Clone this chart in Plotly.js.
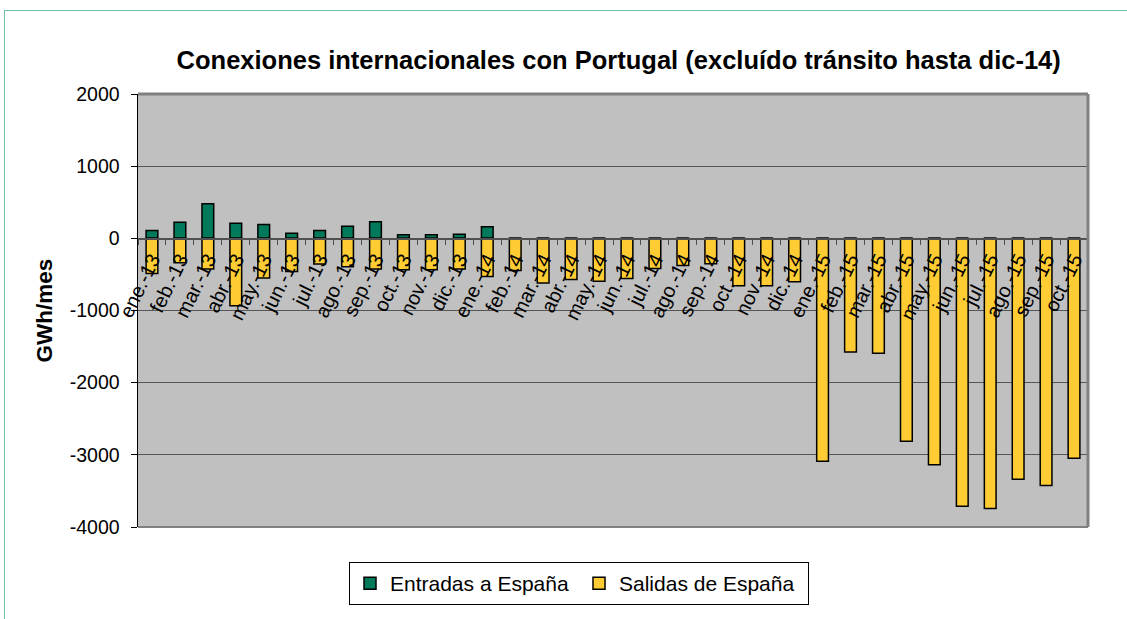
<!DOCTYPE html>
<html>
<head>
<meta charset="utf-8">
<script src="https://cdn.plot.ly/plotly-3.0.1.min.js"></script>
<style>
html,body{margin:0;padding:0;background:#fff;}
#wrap{position:relative;width:1127px;height:619px;overflow:hidden;}
#frame{position:absolute;left:4px;top:10px;width:1200px;height:700px;border-top:1px solid #6cc0a6;border-left:1px solid #6cc0a6;pointer-events:none;}
#chart{position:absolute;left:0;top:0;width:1127px;height:619px;}
</style>
</head>
<body>
<div id="wrap"><div id="chart"></div><div id="frame"></div></div>
<script>
const categories = ["ene.-13","feb.-13","mar.-13","abr.-13","may.-13","jun.-13","jul.-13","ago.-13","sep.-13","oct.-13","nov.-13","dic.-13",
  "ene.-14","feb.-14","mar.-14","abr.-14","may.-14","jun.-14","jul.-14","ago.-14","sep.-14","oct.-14","nov.-14","dic.-14",
  "ene.-15","feb.-15","mar.-15","abr.-15","may.-15","jun.-15","jul.-15","ago.-15","sep.-15","oct.-15"];
const entradas = [110,222,478,208,190,70,107,167,231,51,51,55,
  162,0,0,0,0,0,0,0,0,0,0,0,
  0,0,0,0,0,0,0,0,0,0];
const salidas = [-486,-338,-426,-935,-550,-458,-356,-393,-426,-435,-435,-426,
  -528,-444,-620,-569,-593,-555,-417,-375,-352,-657,-657,-603,
  -3089,-1575,-1593,-2811,-3139,-3714,-3742,-3339,-3426,-3047];
const yTicks = [-4000,-3000,-2000,-1000,0,1000,2000];
const seriesNames = ["Entradas a España","Salidas de España"];

const FONT = "Arial, 'Liberation Sans', sans-serif";
const traces = [
  {type:"bar", name:seriesNames[0], x:categories, y:entradas,
   marker:{color:"#007a5a", line:{color:"#000", width:1.5}}, xaxis:"x", yaxis:"y"},
  {type:"bar", name:seriesNames[1], x:categories, y:salidas,
   marker:{color:"#ffcc33", line:{color:"#000", width:1.5}}, xaxis:"x", yaxis:"y"}
];
const layout = {
  width:1127, height:619,
  margin:{l:138, r:39, t:94, b:92},
  paper_bgcolor:"rgba(0,0,0,0)",
  plot_bgcolor:"#c0c0c0",
  barmode:"relative",
  bargap:0.58,
  font:{family:FONT, color:"#000", size:19},
  title:{text:"<b>Conexiones internacionales con Portugal (excluído tránsito hasta dic-14)</b>",
    font:{family:FONT, size:25.5, color:"#000"}, xref:"paper", x:0.506, xanchor:"center",
    yref:"container", y:0.903, yanchor:"middle"},
  xaxis:{type:"category", anchor:"free", position:0.6667, tickson:"boundaries",
    showline:true, linecolor:"#505050", linewidth:1.5, ticks:"outside", ticklen:5, tickcolor:"#505050",
    tickangle:-64, tickfont:{family:FONT, size:20, color:"#000"}, showgrid:false, zeroline:false,
    automargin:false, fixedrange:true},
  yaxis:{range:[-4000,2000], tickvals:yTicks, ticktext:yTicks.map(String), showline:true, linecolor:"#000", linewidth:1.5,
    ticks:"outside", ticklen:6, tickcolor:"#000", ticklabelstandoff:7, showgrid:true, gridcolor:"#555", gridwidth:1,
    zeroline:false, tickfont:{family:FONT, size:19.5, color:"#000"},
    title:{text:"<b>GWh/mes</b>", font:{family:FONT, size:22.5, color:"#000"}, standoff:11},
    automargin:false, fixedrange:true},
  shapes:[
    {type:"line", xref:"paper", yref:"paper", x0:0, x1:1, y0:1, y1:1, line:{color:"#808080", width:3}},
    {type:"line", xref:"paper", yref:"paper", x0:1, x1:1, y0:0, y1:1, line:{color:"#808080", width:3}},
    {type:"line", xref:"paper", yref:"paper", x0:0, x1:1, y0:0, y1:0, line:{color:"#808080", width:2}}
  ],
  showlegend:true,
  legend:{orientation:"h", x:(349-138)/950, xanchor:"left", y:-0.081, yanchor:"top",
    entrywidth:184, entrywidthmode:"pixels",
    bordercolor:"#000", borderwidth:1, bgcolor:"#fff", font:{family:FONT, size:21, color:"#000"},
    traceorder:"normal"}
};
Plotly.newPlot("chart", traces, layout, {displayModeBar:false, staticPlot:true});
</script>
</body>
</html>
